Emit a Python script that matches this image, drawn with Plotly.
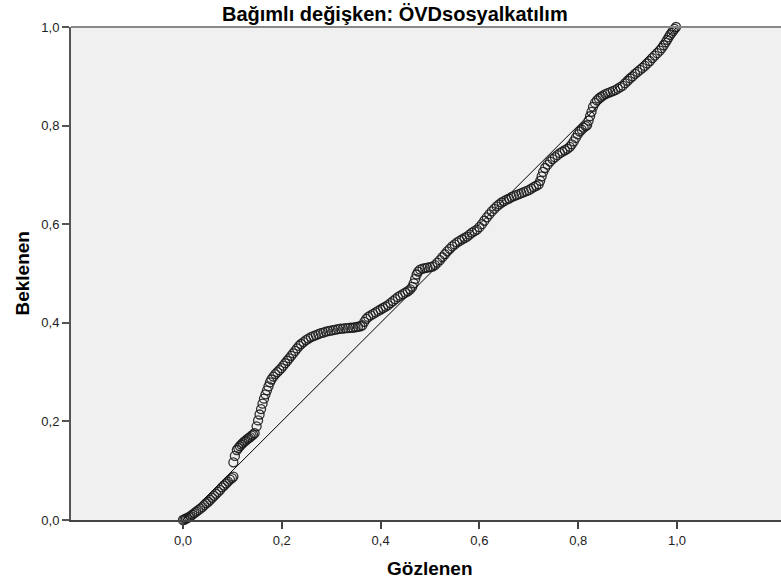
import plotly.graph_objects as go

# Normal P-P plot of regression standardized residuals
title_text = "Bağımlı değişken: ÖVDsosyalkatılım"
x_title = "Gözlenen"
y_title = "Beklenen"

tick_vals = [0.0, 0.2, 0.4, 0.6, 0.8, 1.0]
tick_text = ["0,0", "0,2", "0,4", "0,6", "0,8", "1,0"]

# Observed cumulative probability
observed = [
    0.000, 0.003, 0.006, 0.009, 0.012, 0.015, 0.019, 0.023, 0.027, 0.031,
    0.035, 0.039, 0.043, 0.047, 0.051, 0.055, 0.059, 0.063, 0.067, 0.071,
    0.075, 0.079, 0.083, 0.087, 0.091, 0.095, 0.099, 0.102,
    0.102, 0.105,
    0.109, 0.112, 0.115, 0.118, 0.121, 0.124, 0.127, 0.130, 0.133, 0.136,
    0.139, 0.142, 0.145,
    0.149, 0.152, 0.155, 0.158, 0.161, 0.164, 0.167, 0.170, 0.173, 0.176,
    0.179, 0.183, 0.187, 0.191, 0.195, 0.199, 0.203, 0.207, 0.211, 0.215,
    0.219, 0.223, 0.227, 0.231, 0.235, 0.239, 0.244, 0.249, 0.254, 0.259,
    0.264, 0.269, 0.274, 0.279, 0.284, 0.289, 0.294, 0.299, 0.304, 0.309,
    0.314, 0.319, 0.324, 0.329, 0.334, 0.339, 0.344, 0.349, 0.354, 0.359,
    0.363,
    0.367, 0.371, 0.375, 0.380, 0.385, 0.390, 0.395, 0.400, 0.405, 0.410,
    0.415, 0.420, 0.425, 0.430, 0.435, 0.440, 0.445, 0.450, 0.455, 0.460,
    0.464, 0.467, 0.470, 0.473, 0.476, 0.480, 0.485, 0.490, 0.495, 0.500,
    0.505,
    0.510, 0.515, 0.520, 0.525, 0.530, 0.535, 0.540, 0.545, 0.550, 0.555,
    0.560, 0.565, 0.570, 0.575, 0.580, 0.585, 0.590, 0.595, 0.600, 0.605,
    0.610, 0.615, 0.620, 0.625, 0.630, 0.635, 0.640, 0.645, 0.650, 0.655,
    0.660, 0.665, 0.670, 0.675, 0.680, 0.685, 0.690, 0.695, 0.700, 0.705,
    0.710, 0.715, 0.720,
    0.723, 0.726, 0.729, 0.733, 0.738, 0.743, 0.748, 0.753, 0.758, 0.763,
    0.768, 0.773, 0.778, 0.783, 0.787, 0.791, 0.795, 0.799, 0.803, 0.807,
    0.811, 0.815, 0.818,
    0.821, 0.824, 0.827, 0.830,
    0.834, 0.838, 0.842, 0.846, 0.850, 0.855, 0.860, 0.865, 0.870, 0.875,
    0.880, 0.885, 0.890, 0.895, 0.900, 0.905, 0.910, 0.915, 0.920, 0.925,
    0.930, 0.935, 0.940, 0.945, 0.950, 0.955, 0.960, 0.965, 0.969, 0.973,
    0.977, 0.980, 0.983, 0.986, 0.989, 0.992, 0.995, 0.998,
]

# Expected cumulative probability
expected = [
    0.000, 0.001, 0.003, 0.004, 0.006, 0.008, 0.011, 0.014, 0.017, 0.020,
    0.023, 0.026, 0.030, 0.034, 0.037, 0.041, 0.045, 0.049, 0.053, 0.057,
    0.061, 0.066, 0.070, 0.074, 0.078, 0.082, 0.085, 0.088,
    0.117, 0.130,
    0.142, 0.146, 0.150, 0.153, 0.156, 0.159, 0.161, 0.164, 0.166, 0.168,
    0.171, 0.173, 0.176,
    0.190, 0.202, 0.214, 0.225, 0.236, 0.246, 0.255, 0.263, 0.271, 0.279,
    0.285, 0.291, 0.296, 0.300, 0.304, 0.308, 0.313, 0.318, 0.323, 0.328,
    0.333, 0.338, 0.343, 0.348, 0.353, 0.357, 0.361, 0.365, 0.368, 0.371,
    0.373, 0.375, 0.377, 0.379, 0.380, 0.382, 0.383, 0.384, 0.385, 0.386,
    0.387, 0.388, 0.388, 0.389, 0.389, 0.390, 0.390, 0.391, 0.392, 0.393,
    0.395,
    0.402, 0.408, 0.412, 0.415, 0.418, 0.421, 0.424, 0.427, 0.430, 0.433,
    0.436, 0.440, 0.444, 0.448, 0.452, 0.455, 0.458, 0.461, 0.464, 0.468,
    0.473, 0.480, 0.489, 0.498, 0.504, 0.508, 0.510, 0.511, 0.512, 0.513,
    0.514,
    0.517, 0.522, 0.527, 0.533, 0.539, 0.545, 0.550, 0.555, 0.559, 0.563,
    0.566, 0.569, 0.572, 0.575, 0.579, 0.583, 0.586, 0.589, 0.594, 0.600,
    0.607, 0.614, 0.620, 0.626, 0.631, 0.636, 0.640, 0.644, 0.647, 0.650,
    0.652, 0.655, 0.657, 0.659, 0.661, 0.663, 0.665, 0.667, 0.669, 0.672,
    0.675, 0.678, 0.681,
    0.688, 0.697, 0.706, 0.714, 0.721, 0.727, 0.732, 0.736, 0.740, 0.744,
    0.747, 0.750, 0.753, 0.757, 0.762, 0.768, 0.775, 0.782, 0.788, 0.792,
    0.796, 0.799, 0.801,
    0.810, 0.819, 0.828, 0.838,
    0.846, 0.851, 0.855, 0.858, 0.861, 0.864, 0.866, 0.868, 0.870, 0.872,
    0.875, 0.878, 0.881, 0.886, 0.891, 0.896, 0.900, 0.905, 0.909, 0.913,
    0.917, 0.921, 0.926, 0.931, 0.937, 0.942, 0.947, 0.952, 0.957, 0.963,
    0.969, 0.974, 0.979, 0.984, 0.988, 0.992, 0.996, 1.000,
]

# Reference diagonal
diag = [0.0, 1.0]

FONT = "Liberation Sans, Arial, sans-serif"

fig = go.Figure()
fig.add_trace(go.Scatter(
    x=diag, y=diag, mode="lines",
    line=dict(color="#000000", width=1),
    hoverinfo="skip", showlegend=False,
))
fig.add_trace(go.Scatter(
    x=observed, y=expected, mode="markers",
    marker=dict(symbol="circle-open", size=9,
                color="rgba(25,25,25,0.9)", line=dict(width=1.3)),
    cliponaxis=False, showlegend=False,
))

fig.update_layout(
    width=781, height=586,
    margin=dict(l=71, r=0, t=27, b=66),
    paper_bgcolor="#FFFFFF",
    plot_bgcolor="#F0F0F0",
    font=dict(family=FONT, size=14, color="#222222"),
    xaxis=dict(
        range=[-0.2267, 1.2105],
        tickvals=tick_vals, ticktext=tick_text,
        ticks="outside", ticklen=7, tickwidth=2, tickcolor="#444444",
        showline=True, linecolor="#444444", linewidth=2,
        showgrid=False, zeroline=False,
        tickfont=dict(size=13, color="#222222"),
    ),
    yaxis=dict(
        range=[0, 1],
        tickvals=tick_vals, ticktext=tick_text,
        ticks="outside", ticklen=7, tickwidth=2, tickcolor="#555555",
        showline=True, linecolor="#555555", linewidth=2,
        showgrid=False, zeroline=False,
        tickfont=dict(size=13, color="#222222"),
    ),
    shapes=[dict(type="line", xref="paper", yref="paper",
                 x0=0, x1=1, y0=1, y1=1,
                 line=dict(color="#888888", width=2))],
    annotations=[
        dict(text=f"<b>{title_text}</b>", xref="paper", yref="paper",
             x=0.456, y=1.026, xanchor="center", yanchor="middle",
             showarrow=False, font=dict(family=FONT, size=20, color="#000000")),
        dict(text=f"<b>{x_title}</b>", xref="paper", yref="paper",
             x=0.5056, y=-0.0974, xanchor="center", yanchor="middle",
             showarrow=False, font=dict(family=FONT, size=19, color="#000000")),
        dict(text=f"<b>{y_title}</b>", xref="paper", yref="paper",
             x=-0.069, y=0.5, xanchor="center", yanchor="middle",
             textangle=-90,
             showarrow=False, font=dict(family=FONT, size=19, color="#000000")),
    ],
)

fig.write_html("out.html")
